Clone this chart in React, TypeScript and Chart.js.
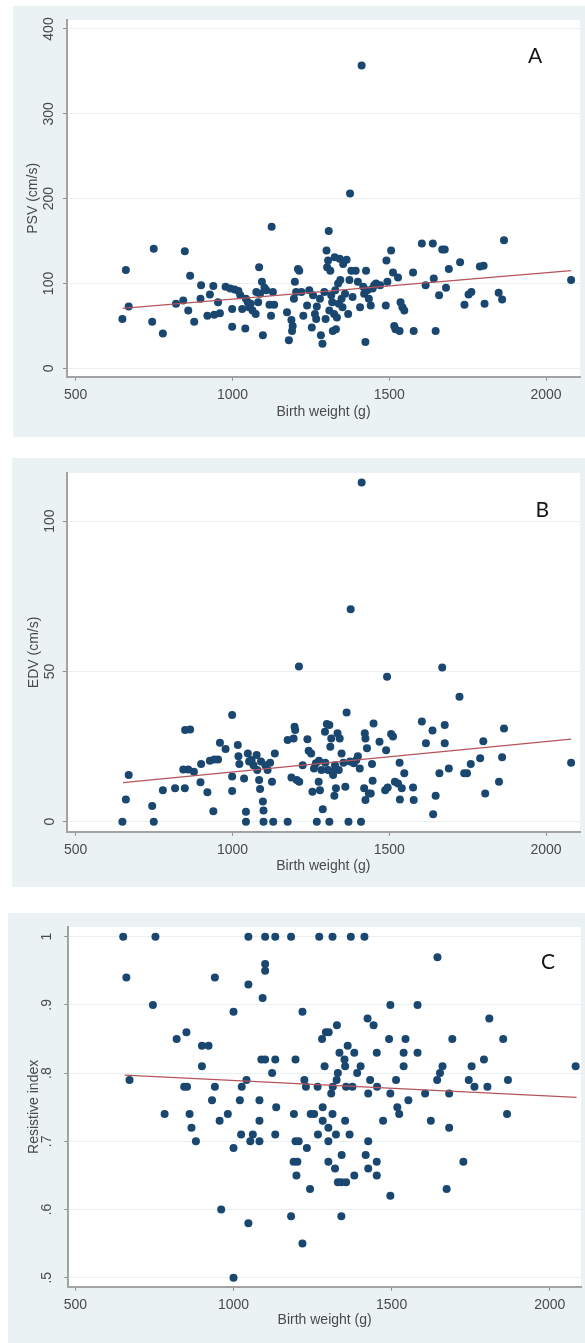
import React, { useEffect, useRef } from "react";
import { Chart, registerables } from "chart.js";

Chart.register(...registerables);

// ---------- shared ----------
const xTicks = [500, 1000, 1500, 2000];
const xTitle = "Birth weight (g)";

// ---------- Panel A: PSV ----------
const weightA = [649, 660, 669, 744, 749, 778, 820, 843, 848, 859, 865, 878, 898, 900, 920, 928, 939, 942, 954, 960, 978, 993, 999, 999, 1007, 1019, 1025, 1031, 1041, 1043, 1049, 1053, 1058, 1064, 1074, 1076, 1082, 1085, 1088, 1094, 1097, 1102, 1108, 1118, 1123, 1125, 1129, 1133, 1174, 1180, 1188, 1192, 1190, 1196, 1199, 1203, 1209, 1213, 1220, 1226, 1238, 1245, 1253, 1257, 1263, 1267, 1269, 1279, 1282, 1287, 1293, 1297, 1300, 1302, 1305, 1307, 1309, 1312, 1315, 1318, 1320, 1324, 1326, 1328, 1330, 1333, 1337, 1339, 1342, 1344, 1348, 1351, 1353, 1359, 1364, 1369, 1373, 1375, 1379, 1383, 1393, 1400, 1407, 1412, 1417, 1420, 1424, 1426, 1430, 1435, 1441, 1447, 1452, 1458, 1471, 1489, 1491, 1494, 1506, 1512, 1516, 1520, 1528, 1533, 1536, 1542, 1548, 1576, 1578, 1604, 1616, 1639, 1642, 1648, 1659, 1669, 1677, 1681, 1690, 1726, 1740, 1753, 1762, 1789, 1801, 1804, 1849, 1860, 1866, 2080];
const psvA = [58, 116, 73, 55, 141, 41, 76, 80, 138, 68, 109, 55, 82, 98, 62, 87, 97, 63, 78, 65, 96, 94, 70, 49, 93, 91, 86, 70, 47, 82, 78, 72, 76, 68, 64, 90, 78, 119, 88, 102, 39, 95, 92, 75, 62, 167, 90, 75, 66, 33, 57, 50, 44, 82, 102, 90, 117, 115, 90, 62, 74, 92, 48, 86, 64, 58, 73, 82, 39, 29, 90, 58, 139, 119, 127, 162, 68, 115, 86, 78, 44, 64, 131, 92, 46, 60, 100, 76, 129, 104, 82, 72, 123, 88, 128, 64, 104, 206, 115, 84, 115, 102, 72, 357, 96, 88, 31, 115, 92, 82, 74, 94, 98, 100, 98, 74, 127, 102, 139, 113, 50, 46, 107, 44, 78, 72, 68, 113, 44, 147, 98, 147, 106, 44, 86, 140, 140, 95, 117, 125, 75, 87, 90, 120, 121, 76, 89, 81, 151, 104];
const fitXA = [650, 2080];
const fitYA = [70.7, 115.1];
const yTicksA = [0, 100, 200, 300, 400];
const yLabelsA = ["0", "100", "200", "300", "400"];

// ---------- Panel B: EDV ----------
const weightB = [649, 660, 669, 744, 749, 778, 817, 843, 849, 848, 859, 865, 877, 898, 900, 920, 928, 939, 942, 954, 960, 978, 999, 999, 999, 1017, 1019, 1022, 1037, 1043, 1043, 1049, 1053, 1061, 1067, 1077, 1079, 1085, 1088, 1091, 1097, 1099, 1099, 1105, 1112, 1120, 1126, 1130, 1135, 1176, 1176, 1188, 1195, 1198, 1200, 1205, 1212, 1213, 1224, 1239, 1243, 1251, 1255, 1260, 1266, 1269, 1275, 1276, 1279, 1284, 1288, 1295, 1296, 1301, 1305, 1309, 1309, 1312, 1315, 1318, 1321, 1325, 1327, 1330, 1335, 1339, 1342, 1348, 1354, 1360, 1364, 1370, 1375, 1377, 1387, 1395, 1400, 1406, 1410, 1412, 1420, 1422, 1424, 1424, 1429, 1435, 1441, 1445, 1447, 1450, 1469, 1487, 1490, 1493, 1495, 1506, 1512, 1518, 1528, 1533, 1534, 1540, 1548, 1576, 1578, 1604, 1617, 1638, 1640, 1648, 1660, 1669, 1677, 1677, 1690, 1724, 1739, 1748, 1760, 1790, 1800, 1806, 1850, 1860, 1866, 2080];
const edvB = [0, 7.4, 15.5, 5.2, 0, 10.5, 11.1, 17.4, 30.5, 11.1, 17.4, 30.7, 16.6, 13.1, 19.2, 9.8, 20.3, 3.5, 20.7, 20.7, 26.3, 24.2, 35.5, 15.0, 10.2, 25.5, 21.8, 19.2, 14.4, 3.3, 0, 22.7, 20.0, 20.5, 18.8, 22.2, 17.2, 13.9, 10.9, 20.0, 6.7, 3.7, 0, 18.8, 17.2, 19.6, 13.3, 0, 22.7, 0, 27.2, 14.7, 27.7, 31.6, 30.5, 13.9, 51.6, 13.3, 18.8, 27.4, 23.6, 22.7, 10.0, 17.7, 19.4, 0, 13.3, 20.3, 10.5, 17.2, 4.1, 29.9, 19.6, 32.5, 17.2, 0, 32.2, 24.9, 27.7, 16.6, 15.5, 8.6, 18.8, 11.1, 29.4, 17.2, 27.7, 22.7, 19.6, 11.6, 36.3, 0, 20.0, 70.7, 19.4, 20.5, 21.8, 17.7, 0, 112.8, 11.1, 29.4, 27.7, 7.2, 24.4, 9.4, 9.4, 19.2, 13.6, 32.7, 26.6, 10.5, 23.8, 48.2, 11.4, 29.2, 28.3, 13.3, 12.7, 19.6, 7.4, 11.1, 16.1, 11.4, 7.2, 33.3, 26.1, 30.3, 2.5, 8.6, 16.1, 51.3, 32.2, 26.1, 17.7, 41.6, 16.1, 16.1, 19.2, 21.1, 26.8, 9.4, 13.3, 21.4, 31.0, 19.6];
const fitXB = [651, 2080];
const fitYB = [13.0, 27.5];
const yTicksB = [0, 50, 100];
const yLabelsB = ["0", "50", "100"];

// ---------- Panel C: Resistive index ----------
const weightC = [651, 753, 1047, 1100, 1132, 1182, 1271, 1313, 1371, 1414, 661, 1645, 1100, 1100, 941, 1047, 1092, 745, 1000, 1218, 1496, 1582, 1424, 1809, 1443, 1327, 851, 1292, 1301, 820, 1280, 1492, 1544, 1692, 1853, 900, 921, 1361, 1335, 1382, 1453, 1538, 1582, 1088, 1100, 1132, 1196, 1351, 1792, 900, 1288, 1353, 1402, 1538, 1661, 1753, 2082, 1122, 1330, 1391, 1653, 671, 1041, 1224, 1326, 1432, 1514, 1644, 1744, 1868, 844, 853, 941, 1026, 1229, 1266, 1314, 1356, 1376, 1454, 1762, 1803, 1309, 1426, 1496, 1606, 1682, 932, 1020, 1082, 1553, 1135, 1282, 1518, 782, 861, 982, 1191, 1244, 1255, 1313, 1524, 1865, 956, 1082, 1282, 1353, 1473, 1624, 867, 1300, 1682, 1024, 1061, 1132, 1267, 1324, 1367, 881, 1053, 1082, 1196, 1206, 1300, 1426, 1000, 1232, 1342, 1418, 1190, 1202, 1300, 1453, 1727, 1321, 1426, 1199, 1382, 1453, 1330, 1341, 1356, 1242, 1674, 1496, 961, 1182, 1341, 1047, 1218, 1000];
const riC = [1, 1, 1, 1, 1, 1, 1, 1, 1, 1, 0.94, 0.97, 0.96, 0.95, 0.94, 0.93, 0.91, 0.9, 0.89, 0.89, 0.9, 0.9, 0.88, 0.88, 0.87, 0.87, 0.86, 0.86, 0.86, 0.85, 0.85, 0.85, 0.85, 0.85, 0.85, 0.84, 0.84, 0.84, 0.83, 0.83, 0.83, 0.83, 0.83, 0.82, 0.82, 0.82, 0.82, 0.82, 0.82, 0.81, 0.81, 0.81, 0.81, 0.81, 0.81, 0.81, 0.81, 0.8, 0.8, 0.8, 0.8, 0.79, 0.79, 0.79, 0.79, 0.79, 0.79, 0.79, 0.79, 0.79, 0.78, 0.78, 0.78, 0.78, 0.78, 0.78, 0.78, 0.78, 0.78, 0.78, 0.78, 0.78, 0.77, 0.77, 0.77, 0.77, 0.77, 0.76, 0.76, 0.76, 0.76, 0.75, 0.75, 0.75, 0.74, 0.74, 0.74, 0.74, 0.74, 0.74, 0.74, 0.74, 0.74, 0.73, 0.73, 0.73, 0.73, 0.73, 0.73, 0.72, 0.72, 0.72, 0.71, 0.71, 0.71, 0.71, 0.71, 0.71, 0.7, 0.7, 0.7, 0.7, 0.7, 0.7, 0.7, 0.69, 0.69, 0.68, 0.68, 0.67, 0.67, 0.67, 0.67, 0.67, 0.66, 0.66, 0.65, 0.65, 0.65, 0.64, 0.64, 0.64, 0.63, 0.63, 0.62, 0.6, 0.59, 0.59, 0.58, 0.55, 0.5];
const fitXC = [656, 2085];
const fitYC = [0.797, 0.7645];
const yTicksC = [0.5, 0.6, 0.7, 0.8, 0.9, 1];
const yLabelsC = [".5", ".6", ".7", ".8", ".9", "1"];

// ---------- styling ----------
const FONT = "'Liberation Sans', Arial, sans-serif";
const DOT = "#1a476f";
const FIT = "#b5545b";
const TEXT = "#4a4a4a";
const AXIS = "#a3a3a3";
const TICK = "#8e8e8e";
const GRID = "#eaefef";
const OUTER = "#eaf2f3";

type PanelProps = {
  left: number; top: number; width: number; height: number;
  areaLeft: number; areaTop: number; areaRight: number; areaBottom: number;
  xMin: number; xMax: number; yMin: number; yMax: number;
  xs: number[]; ys: number[]; fitX: number[]; fitY: number[];
  yTicks: number[]; yLabels: string[]; yTitle: string;
  yTickPad: number; yTitlePad: number; xTitlePad: number;
  letter: string; letterX: number; letterY: number;
};

function Panel(p: PanelProps) {
  const ref = useRef<HTMLCanvasElement | null>(null);
  useEffect(() => {
    if (!ref.current) return;
    const plotBg = {
      id: "plotBg",
      beforeDraw(chart: any) {
        const { ctx, chartArea: a } = chart;
        ctx.save();
        ctx.fillStyle = "#ffffff";
        ctx.fillRect(a.left, a.top, a.right - a.left, a.bottom - a.top);
        ctx.restore();
      },
      afterDraw(chart: any) {
        const { ctx } = chart;
        ctx.save();
        ctx.fillStyle = "#161616";
        ctx.font = "21px Lato, 'Open Sans', sans-serif";
        ctx.textAlign = "left";
        ctx.textBaseline = "alphabetic";
        ctx.fillText(p.letter, p.letterX, p.letterY);
        ctx.restore();
      },
    };
    const chart = new Chart(ref.current, {
      type: "scatter",
      data: {
        datasets: [
          {
            data: p.xs.map((x, i) => ({ x, y: p.ys[i] })),
            backgroundColor: DOT,
            borderWidth: 0,
            pointRadius: 4,
            pointHoverRadius: 4,
            order: 2,
          },
          {
            data: p.fitX.map((x, i) => ({ x, y: p.fitY[i] })),
            showLine: true,
            borderColor: FIT,
            borderWidth: 1.3,
            pointRadius: 0,
            order: 1,
          },
        ],
      },
      options: {
        animation: false,
        responsive: false,
        devicePixelRatio: 1,
        events: [],
        layout: { padding: { left: 0, top: p.areaTop, right: p.width - p.areaRight, bottom: 0 } },
        plugins: { legend: { display: false }, tooltip: { enabled: false } },
        scales: {
          x: {
            type: "linear",
            min: p.xMin,
            max: p.xMax,
            afterBuildTicks: (s: any) => { s.ticks = xTicks.map((v) => ({ value: v })); },
            afterFit: (s: any) => {
              s.height = p.height - p.areaBottom;
              s.paddingLeft = 0; s.paddingRight = 0;
            },
            grid: { drawOnChartArea: false, drawTicks: true, tickLength: 4, tickColor: TICK, tickWidth: 1 },
            border: { display: true, color: AXIS, width: 2 },
            ticks: {
              padding: 6, color: TEXT, font: { family: FONT, size: 14 },
              maxRotation: 0, minRotation: 0, autoSkip: false,
              callback: (v: any) => String(v),
            },
            title: {
              display: true, text: xTitle, color: TEXT,
              font: { family: FONT, size: 14 }, padding: { top: 0, bottom: p.xTitlePad },
            },
          },
          y: {
            type: "linear",
            min: p.yMin,
            max: p.yMax,
            afterBuildTicks: (s: any) => { s.ticks = p.yTicks.map((v) => ({ value: v })); },
            afterFit: (s: any) => {
              s.width = p.areaLeft;
              s.paddingTop = 0; s.paddingBottom = 0;
            },
            grid: { color: GRID, lineWidth: 1, drawTicks: true, tickLength: 4, tickColor: TICK, tickWidth: 1 },
            border: { display: true, color: AXIS, width: 2 },
            ticks: {
              padding: p.yTickPad, color: TEXT, font: { family: FONT, size: 14 },
              minRotation: 90, maxRotation: 90, crossAlign: "center", autoSkip: false,
              callback: (v: any) => {
                const i = p.yTicks.findIndex((t) => Math.abs(t - v) < 1e-9);
                return i >= 0 ? p.yLabels[i] : "";
              },
            },
            title: {
              display: true, text: p.yTitle, color: TEXT,
              font: { family: FONT, size: 14 }, padding: { top: p.yTitlePad, bottom: 0 },
            },
          },
        },
      } as any,
      plugins: [plotBg],
    });
    return () => chart.destroy();
  }, []);
  return (
    <div style={{ position: "absolute", left: p.left, top: p.top, width: p.width, height: p.height, background: OUTER }}>
      <canvas ref={ref} width={p.width} height={p.height} style={{ width: p.width, height: p.height, display: "block" }} />
    </div>
  );
}

export default function App() {
  return (
    <div style={{ position: "absolute", left: 0, top: 0, width: 585, height: 1343, background: "#ffffff", overflow: "hidden" }}>
      <Panel
        left={13} top={6} width={572} height={431}
        areaLeft={54} areaTop={14} areaRight={567} areaBottom={370.7}
        xMin={472.3} xMax={2108.4} yMin={-9.9} yMax={410.6}
        xs={weightA} ys={psvA} fitX={fitXA} fitY={fitYA}
        yTicks={yTicksA} yLabels={yLabelsA} yTitle="PSV (cm/s)"
        yTickPad={2.3} yTitlePad={11.6} xTitlePad={16.9}
        letter="A" letterX={515} letterY={56.7}
      />
      <Panel
        left={12} top={458} width={573} height={429}
        areaLeft={54.7} areaTop={15} areaRight={568} areaBottom={373.7}
        xMin={471.3} xMax={2108.4} yMin={-3.33} yMax={116.0}
        xs={weightB} ys={edvB} fitX={fitXB} fitY={fitYB}
        yTicks={yTicksB} yLabels={yLabelsB} yTitle="EDV (cm/s)"
        yTickPad={1.0} yTitlePad={13.3} xTitlePad={12.6}
        letter="B" letterX={523.5} letterY={59.3}
      />
      <Panel
        left={8} top={913} width={577} height={430}
        areaLeft={60.3} areaTop={14} areaRight={577} areaBottom={373.7}
        xMin={477.4} xMax={2099} yMin={0.4868} yMax={1.0142}
        xs={weightC} ys={riC} fitX={fitXC} fitY={fitYC}
        yTicks={yTicksC} yLabels={yLabelsC} yTitle="Resistive index"
        yTickPad={11} yTitlePad={17.3} xTitlePad={14.6}
        letter="C" letterX={533} letterY={56}
      />
    </div>
  );
}
